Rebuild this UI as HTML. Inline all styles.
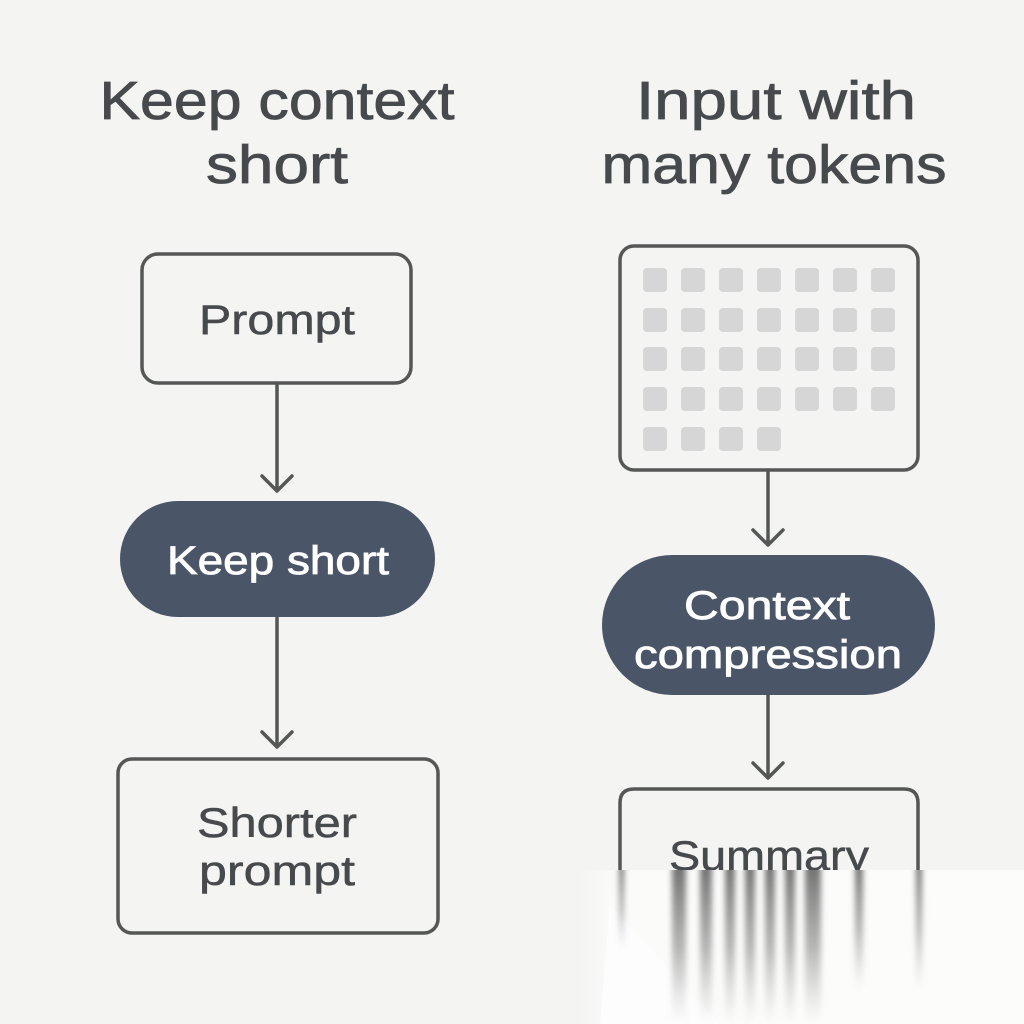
<!DOCTYPE html>
<html><head><meta charset="utf-8"><style>
html,body{margin:0;padding:0;background:#f4f4f2;}
svg{display:block}
text{font-family:"Liberation Sans",sans-serif;}
</style></head><body>
<svg width="1024" height="1024" viewBox="0 0 1024 1024" xmlns="http://www.w3.org/2000/svg">
<defs>
<linearGradient id="hf" x1="0" y1="0" x2="1" y2="0">
<stop offset="0" stop-color="#fbfbfa" stop-opacity="0"/>
<stop offset="0.08" stop-color="#fbfbfa" stop-opacity="1"/>
<stop offset="1" stop-color="#fcfcfb"/>
</linearGradient>
<linearGradient id="streak" x1="0" y1="0" x2="0" y2="1">
<stop offset="0" stop-color="#666" stop-opacity="0.9"/>
<stop offset="0.5" stop-color="#888" stop-opacity="0.6"/>
<stop offset="1" stop-color="#aaa" stop-opacity="0"/>
</linearGradient>
<filter id="bl"><feGaussianBlur stdDeviation="3 0"/></filter>
</defs>
<rect width="1024" height="1024" fill="#f4f4f2"/>
<g fill="#474a4c" stroke="#474a4c" stroke-width="0.8" font-size="54" text-anchor="middle">
<text x="277" y="119" textLength="355" lengthAdjust="spacingAndGlyphs">Keep context</text>
<text x="277" y="183" textLength="142" lengthAdjust="spacingAndGlyphs">short</text>
<text x="776" y="119" textLength="280" lengthAdjust="spacingAndGlyphs">Input with</text>
<text x="774" y="183" textLength="345" lengthAdjust="spacingAndGlyphs">many tokens</text>
</g>
<g fill="none" stroke="#555757" stroke-width="3.5" stroke-linecap="round" stroke-linejoin="round">
<rect x="142" y="254" width="269" height="129" rx="16"/>
<rect x="118" y="759" width="320" height="174" rx="14"/>
<rect x="620" y="246" width="298" height="224" rx="14"/>
<path d="M620 870 V803 Q620 789 634 789 H904 Q918 789 918 803 V870"/>
<path d="M277 383 V490 M262 476 L277 491 L292 476"/>
<path d="M277 617 V746 M262 732 L277 747 L292 732"/>
<path d="M768 470 V544 M753 530 L768 545 L783 530"/>
<path d="M768 695 V777 M753 763 L768 778 L783 763"/>
</g>
<g fill="#d6d6d6">
<rect x="643" y="268" width="24" height="24" rx="4"/><rect x="681" y="268" width="24" height="24" rx="4"/><rect x="719" y="268" width="24" height="24" rx="4"/><rect x="757" y="268" width="24" height="24" rx="4"/><rect x="795" y="268" width="24" height="24" rx="4"/><rect x="833" y="268" width="24" height="24" rx="4"/><rect x="871" y="268" width="24" height="24" rx="4"/>
<rect x="643" y="308" width="24" height="24" rx="4"/><rect x="681" y="308" width="24" height="24" rx="4"/><rect x="719" y="308" width="24" height="24" rx="4"/><rect x="757" y="308" width="24" height="24" rx="4"/><rect x="795" y="308" width="24" height="24" rx="4"/><rect x="833" y="308" width="24" height="24" rx="4"/><rect x="871" y="308" width="24" height="24" rx="4"/>
<rect x="643" y="347" width="24" height="24" rx="4"/><rect x="681" y="347" width="24" height="24" rx="4"/><rect x="719" y="347" width="24" height="24" rx="4"/><rect x="757" y="347" width="24" height="24" rx="4"/><rect x="795" y="347" width="24" height="24" rx="4"/><rect x="833" y="347" width="24" height="24" rx="4"/><rect x="871" y="347" width="24" height="24" rx="4"/>
<rect x="643" y="387" width="24" height="24" rx="4"/><rect x="681" y="387" width="24" height="24" rx="4"/><rect x="719" y="387" width="24" height="24" rx="4"/><rect x="757" y="387" width="24" height="24" rx="4"/><rect x="795" y="387" width="24" height="24" rx="4"/><rect x="833" y="387" width="24" height="24" rx="4"/><rect x="871" y="387" width="24" height="24" rx="4"/>
<rect x="643" y="427" width="24" height="24" rx="4"/><rect x="681" y="427" width="24" height="24" rx="4"/><rect x="719" y="427" width="24" height="24" rx="4"/><rect x="757" y="427" width="24" height="24" rx="4"/>
</g>
<rect x="120" y="501" width="315" height="116" rx="58" fill="#4a5668"/>
<rect x="602" y="555" width="333" height="140" rx="70" fill="#4a5668"/>
<g fill="#fff" stroke="#fff" stroke-width="0.8" font-size="40" text-anchor="middle">
<text x="278" y="574" textLength="222" lengthAdjust="spacingAndGlyphs">Keep short</text>
<text x="767" y="619" textLength="166" lengthAdjust="spacingAndGlyphs">Context</text>
<text x="768" y="668" textLength="268" lengthAdjust="spacingAndGlyphs">compression</text>
</g>
<g fill="#474a4c" stroke="#474a4c" stroke-width="0.5" font-size="42" text-anchor="middle">
<text x="277" y="334" textLength="156" lengthAdjust="spacingAndGlyphs">Prompt</text>
<text x="277" y="837" textLength="160" lengthAdjust="spacingAndGlyphs">Shorter</text>
<text x="277" y="885" textLength="156" lengthAdjust="spacingAndGlyphs">prompt</text>
</g>
<svg x="0" y="0" width="1024" height="870" overflow="hidden"><text x="769" y="870" font-size="42" fill="#474a4c" stroke="#474a4c" stroke-width="0.5" text-anchor="middle" textLength="200" lengthAdjust="spacingAndGlyphs">Summary</text></svg>
<rect x="580" y="870" width="444" height="154" fill="url(#hf)"/>
<polygon points="610,905 720,1024 600,1024" fill="#fdfdfd"/>
<g filter="url(#bl)" fill="url(#streak)">
<rect x="619" y="870" width="5" height="80"/>
<rect x="672" y="870" width="14" height="154"/>
<rect x="700" y="870" width="12" height="154"/>
<rect x="725" y="870" width="10" height="154"/>
<rect x="745" y="870" width="10" height="154"/>
<rect x="765" y="870" width="10" height="154"/>
<rect x="785" y="870" width="10" height="154"/>
<rect x="805" y="870" width="16" height="154"/>
<rect x="855" y="870" width="8" height="120"/>
<rect x="916" y="870" width="6" height="120"/>
</g>
</svg>
</body></html>
